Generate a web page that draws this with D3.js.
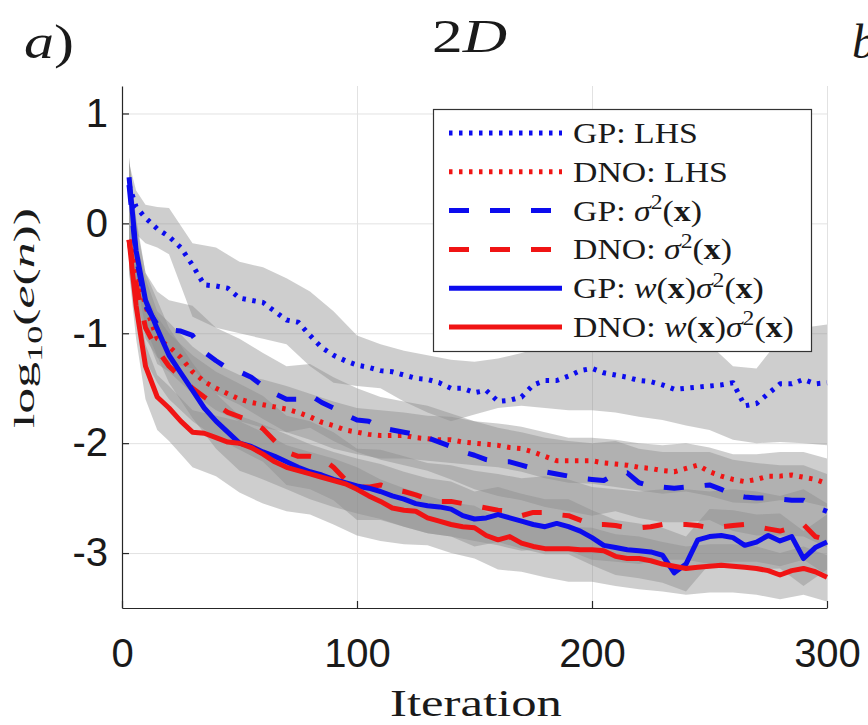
<!DOCTYPE html>
<html>
<head>
<meta charset="utf-8">
<script src="https://cdn.jsdelivr.net/npm/d3@7"></script>
<style>
body { margin: 0; background: #fff; }
text { white-space: pre; }
</style>
</head>
<body>
<div id="chart"></div>
<script>
var W = 868;
var H = 725;

var iterations = [3, 6, 10, 15, 20, 25, 30, 35, 40, 45, 50, 55, 60, 65, 70, 75, 80, 85, 90, 95,
    100, 105, 110, 115, 120, 125, 130, 135, 140, 145, 150, 155, 160, 165, 170, 175, 180, 185, 190, 195,
    200, 205, 210, 215, 220, 225, 230, 235, 240, 245, 250, 255, 260, 265, 270, 275, 280, 285, 290, 295, 300];

var gpLhs = [0.35, 0.15, 0.05, -0.05, -0.12, -0.22, -0.38, -0.56, -0.57, -0.59,
    -0.68, -0.70, -0.72, -0.80, -0.88, -0.90, -1.02, -1.13, -1.20, -1.25,
    -1.29, -1.31, -1.34, -1.35, -1.38, -1.41, -1.42, -1.45, -1.50, -1.50,
    -1.54, -1.52, -1.62, -1.61, -1.58, -1.47, -1.43, -1.43, -1.39, -1.34,
    -1.32, -1.36, -1.38, -1.40, -1.43, -1.44, -1.47, -1.51, -1.50, -1.49,
    -1.48, -1.47, -1.45, -1.66, -1.64, -1.55, -1.46, -1.46, -1.42, -1.46, -1.45];

var dnoLhs = [-0.15, -0.40, -0.75, -1.05, -1.12, -1.22, -1.35, -1.44, -1.50, -1.55,
    -1.60, -1.63, -1.65, -1.67, -1.69, -1.72, -1.76, -1.81, -1.84, -1.88,
    -1.90, -1.92, -1.93, -1.93, -1.93, -1.95, -1.96, -1.97, -1.97, -1.99,
    -2.00, -2.01, -2.02, -2.04, -2.05, -2.08, -2.12, -2.16, -2.16, -2.16,
    -2.16, -2.18, -2.19, -2.20, -2.22, -2.23, -2.25, -2.26, -2.23, -2.20,
    -2.26, -2.30, -2.33, -2.35, -2.33, -2.30, -2.30, -2.29, -2.31, -2.33, -2.37];

var gpVar = [0.35, -0.30, -0.75, -0.92, -0.97, -0.98, -1.02, -1.17, -1.25, -1.32,
    -1.35, -1.40, -1.48, -1.55, -1.60, -1.60, -1.56, -1.63, -1.68, -1.74,
    -1.79, -1.80, -1.86, -1.88, -1.90, -1.92, -1.95, -1.99, -2.03, -2.08,
    -2.11, -2.15, -2.17, -2.17, -2.20, -2.23, -2.26, -2.28, -2.30, -2.32,
    -2.33, -2.34, -2.28, -2.27, -2.36, -2.39, -2.40, -2.41, -2.40, -2.39,
    -2.38, -2.42, -2.47, -2.49, -2.50, -2.50, -2.51, -2.52, -2.52, -2.58, -2.62];

var dnoVar = [-0.15, -0.55, -0.95, -1.15, -1.30, -1.40, -1.50, -1.58, -1.65, -1.72,
    -1.76, -1.80, -1.87, -1.98, -2.08, -2.12, -2.12, -2.14, -2.22, -2.33,
    -2.40, -2.40, -2.38, -2.42, -2.44, -2.47, -2.51, -2.53, -2.53, -2.55,
    -2.57, -2.59, -2.61, -2.62, -2.66, -2.63, -2.63, -2.65, -2.66, -2.70,
    -2.74, -2.74, -2.75, -2.77, -2.77, -2.76, -2.74, -2.74, -2.74, -2.75,
    -2.77, -2.76, -2.75, -2.74, -2.76, -2.78, -2.80, -2.77, -2.74, -2.85, -2.88];

var gpWVar = [0.42, -0.25, -0.70, -0.96, -1.20, -1.36, -1.52, -1.68, -1.80, -1.90,
    -2.00, -2.03, -2.08, -2.12, -2.17, -2.22, -2.26, -2.29, -2.33, -2.36,
    -2.39, -2.41, -2.44, -2.48, -2.51, -2.55, -2.57, -2.58, -2.60, -2.66,
    -2.69, -2.68, -2.65, -2.68, -2.71, -2.74, -2.76, -2.73, -2.76, -2.80,
    -2.86, -2.93, -2.95, -2.97, -2.98, -2.99, -3.02, -3.18, -3.10, -2.88,
    -2.85, -2.84, -2.86, -2.93, -2.90, -2.84, -2.89, -2.85, -3.05, -2.95, -2.90];

var dnoWVar = [-0.15, -0.75, -1.30, -1.58, -1.68, -1.80, -1.90, -1.91, -1.95, -1.99,
    -2.00, -2.04, -2.10, -2.17, -2.22, -2.25, -2.28, -2.31, -2.34, -2.37,
    -2.42, -2.48, -2.53, -2.59, -2.61, -2.62, -2.68, -2.71, -2.74, -2.76,
    -2.77, -2.84, -2.88, -2.85, -2.91, -2.94, -2.96, -2.96, -2.96, -2.97,
    -2.97, -2.98, -3.03, -3.05, -3.05, -3.07, -3.10, -3.12, -3.14, -3.13,
    -3.12, -3.11, -3.12, -3.13, -3.14, -3.16, -3.20, -3.16, -3.14, -3.17, -3.22];

// spread bands (grey), read at coarser steps
var bandIterations = [3, 6, 10, 15, 20, 30, 40, 50, 60, 70, 80, 90, 100, 110, 120, 130, 140,
    150, 160, 170, 180, 190, 200, 210, 220, 230, 240, 250, 260, 270, 280, 290, 300];

var gpLhsHigh = [0.55, 0.30, 0.17, 0.15, 0.14, -0.18, -0.22, -0.35, -0.40, -0.50, -0.62, -0.80, -1.02,
    -1.10, -1.16, -1.20, -1.24, -1.26, -1.23, -1.18, -1.12, -1.08, -1.05, -1.05, -1.08, -1.10, -1.05,
    -1.10, -1.30, -1.32, -1.05, -0.95, -0.92];
var gpLhsLow = [0.10, -0.10, -0.18, -0.22, -0.28, -0.85, -0.95, -1.00, -1.05, -1.10, -1.30, -1.45, -1.48,
    -1.50, -1.62, -1.72, -1.80, -1.74, -1.68, -1.66, -1.68, -1.70, -1.70, -1.72, -1.76, -1.79, -1.84,
    -1.88, -1.97, -2.00, -1.99, -2.00, -2.02];

var dnoLhsHigh = [0.10, -0.15, -0.50, -0.80, -0.90, -1.12, -1.28, -1.38, -1.42, -1.48, -1.55, -1.62, -1.68,
    -1.70, -1.72, -1.75, -1.76, -1.80, -1.82, -1.85, -1.90, -1.95, -1.95, -1.97, -2.00, -2.02, -2.00,
    -2.04, -2.10, -2.10, -2.08, -2.08, -2.14];
var dnoLhsLow = [-0.40, -0.70, -1.00, -1.28, -1.35, -1.55, -1.70, -1.80, -1.86, -1.90, -1.97, -2.05, -2.10,
    -2.14, -2.14, -2.16, -2.18, -2.20, -2.22, -2.26, -2.32, -2.36, -2.37, -2.40, -2.43, -2.46, -2.44,
    -2.48, -2.54, -2.55, -2.52, -2.53, -2.58];

var gpVarHigh = [0.60, 0.05, -0.45, -0.62, -0.70, -0.75, -0.95, -1.05, -1.18, -1.30, -1.28, -1.40, -1.50,
    -1.58, -1.62, -1.66, -1.73, -1.80, -1.86, -1.90, -1.95, -1.98, -2.00, -1.98, -2.05, -2.08, -2.08,
    -2.08, -2.15, -2.18, -2.20, -2.20, -2.28];
var gpVarLow = [0.05, -0.60, -1.05, -1.22, -1.27, -1.32, -1.55, -1.65, -1.78, -1.90, -1.86, -1.98, -2.08,
    -2.15, -2.20, -2.25, -2.33, -2.42, -2.48, -2.52, -2.58, -2.62, -2.66, -2.62, -2.68, -2.72, -2.72,
    -2.70, -2.80, -2.84, -2.84, -2.85, -2.95];

var dnoVarHigh = [0.15, -0.25, -0.65, -0.85, -1.00, -1.20, -1.35, -1.46, -1.57, -1.75, -1.80, -1.90, -2.05,
    -2.06, -2.12, -2.18, -2.20, -2.25, -2.28, -2.32, -2.30, -2.33, -2.40, -2.42, -2.44, -2.42, -2.42,
    -2.44, -2.42, -2.44, -2.48, -2.42, -2.55];
var dnoVarLow = [-0.45, -0.85, -1.25, -1.45, -1.60, -1.80, -1.95, -2.06, -2.17, -2.38, -2.42, -2.52, -2.70,
    -2.70, -2.76, -2.82, -2.85, -2.89, -2.93, -2.98, -2.96, -2.98, -3.06, -3.08, -3.10, -3.06, -3.06,
    -3.10, -3.08, -3.08, -3.12, -3.06, -3.20];

var gpWVarHigh = [0.60, 0.00, -0.45, -0.70, -0.95, -1.27, -1.55, -1.75, -1.83, -1.92, -2.01, -2.08, -2.14,
    -2.19, -2.26, -2.32, -2.35, -2.44, -2.40, -2.46, -2.51, -2.51, -2.61, -2.70, -2.73, -2.77, -2.85,
    -2.60, -2.61, -2.65, -2.64, -2.80, -2.65];
var gpWVarLow = [0.15, -0.50, -0.95, -1.21, -1.45, -1.77, -2.05, -2.25, -2.33, -2.42, -2.51, -2.58, -2.64,
    -2.69, -2.76, -2.82, -2.85, -2.94, -2.90, -2.96, -3.01, -3.01, -3.11, -3.20, -3.23, -3.27, -3.35,
    -3.10, -3.11, -3.15, -3.14, -3.30, -3.15];

var dnoWVarHigh = [0.05, -0.55, -1.10, -1.38, -1.48, -1.70, -1.75, -1.80, -1.90, -2.02, -2.08, -2.14, -2.22,
    -2.33, -2.41, -2.48, -2.54, -2.57, -2.68, -2.71, -2.76, -2.76, -2.77, -2.83, -2.85, -2.90, -2.94,
    -2.92, -2.92, -2.94, -3.00, -2.94, -3.02];
var dnoWVarLow = [-0.45, -1.05, -1.60, -1.88, -1.98, -2.22, -2.30, -2.45, -2.55, -2.62, -2.65, -2.74, -2.84,
    -2.89, -2.92, -2.93, -3.00, -3.05, -3.15, -3.17, -3.22, -3.26, -3.26, -3.30, -3.33, -3.35, -3.38,
    -3.36, -3.36, -3.38, -3.42, -3.38, -3.44];

var seriesNames = ["GP: LHS", "DNO: LHS", "GP: σ²(x)", "DNO: σ²(x)", "GP: w(x)σ²(x)", "DNO: w(x)σ²(x)"];
var xTicks = [0, 100, 200, 300];
var yTicks = [1, 0, -1, -2, -3];

var blue = "#0c0cee";
var red = "#f01414";
var dotted = "3.5,6.5";
var dashed = "20,21";

var series = [
    {name: seriesNames[0], values: gpLhs, low: gpLhsLow, high: gpLhsHigh, color: blue, dash: dotted},
    {name: seriesNames[1], values: dnoLhs, low: dnoLhsLow, high: dnoLhsHigh, color: red, dash: dotted},
    {name: seriesNames[2], values: gpVar, low: gpVarLow, high: gpVarHigh, color: blue, dash: dashed},
    {name: seriesNames[3], values: dnoVar, low: dnoVarLow, high: dnoVarHigh, color: red, dash: dashed},
    {name: seriesNames[4], values: gpWVar, low: gpWVarLow, high: gpWVarHigh, color: blue, dash: null},
    {name: seriesNames[5], values: dnoWVar, low: dnoWVarLow, high: dnoWVarHigh, color: red, dash: null}
];

var serif = "'Liberation Serif', 'Times New Roman', serif";
var sans = "'Liberation Sans', Arial, Helvetica, sans-serif";

var svg = d3.select("#chart")
    .append("svg")
    .attr("width", W)
    .attr("height", H);

var x = d3.scaleLinear().domain([0, 300]).range([122, 827]);
var y = d3.scaleLinear().domain([-3.5, 1.25]).range([608, 86]);

svg.append("clipPath")
    .attr("id", "plotClip")
    .append("rect")
    .attr("x", 122).attr("y", 86)
    .attr("width", 706).attr("height", 522);

// grid
svg.append("g")
    .selectAll("line")
    .data(yTicks)
    .enter()
    .append("line")
    .attr("x1", x(0)).attr("x2", x(300))
    .attr("y1", function (d) { return y(d) + 0.5; })
    .attr("y2", function (d) { return y(d) + 0.5; })
    .attr("stroke", "#e2e2e2");

svg.append("g")
    .selectAll("line")
    .data(xTicks.slice(1))
    .enter()
    .append("line")
    .attr("x1", function (d) { return x(d) + 0.5; })
    .attr("x2", function (d) { return x(d) + 0.5; })
    .attr("y1", y(1.25)).attr("y2", y(-3.5))
    .attr("stroke", "#e2e2e2");

var plot = svg.append("g").attr("clip-path", "url(#plotClip)");

// grey spread bands
var band = d3.area()
    .x(function (d) { return x(d.it); })
    .y0(function (d) { return y(d.lo); })
    .y1(function (d) { return y(d.hi); });

plot.selectAll("path.band")
    .data(series)
    .enter()
    .append("path")
    .attr("class", "band")
    .attr("d", function (s) {
        return band(bandIterations.map(function (it, i) {
            return {it: it, lo: s.low[i], hi: s.high[i]};
        }));
    })
    .attr("fill", "#8a8a8a")
    .attr("fill-opacity", 0.42);

// mean curves
var line = d3.line()
    .x(function (d) { return x(d[0]); })
    .y(function (d) { return y(d[1]); });

plot.selectAll("path.mean")
    .data(series)
    .enter()
    .append("path")
    .attr("class", "mean")
    .attr("d", function (s) {
        return line(iterations.map(function (it, i) { return [it, s.values[i]]; }));
    })
    .attr("fill", "none")
    .attr("stroke", function (s) { return s.color; })
    .attr("stroke-width", 5)
    .attr("stroke-linejoin", "round")
    .attr("stroke-dasharray", function (s) { return s.dash; });

// axes
var yAxis = d3.axisLeft(y)
    .tickValues(yTicks)
    .tickFormat(function (d) { return String(d); })
    .tickSize(-7)
    .tickSizeOuter(0)
    .tickPadding(14);

var xAxis = d3.axisBottom(x)
    .tickValues(xTicks)
    .tickFormat(function (d) { return String(d); })
    .tickSize(-7)
    .tickSizeOuter(0)
    .tickPadding(31);

var gy = svg.append("g")
    .attr("transform", "translate(" + x(0) + ",0)")
    .call(yAxis);

var gx = svg.append("g")
    .attr("transform", "translate(0," + y(-3.5) + ")")
    .call(xAxis);

[gx, gy].forEach(function (g) {
    g.select(".domain").attr("stroke", "#262626").attr("stroke-width", 1.2);
    g.selectAll(".tick line").attr("stroke", "#262626").attr("stroke-width", 1.2);
    g.selectAll(".tick text")
        .attr("fill", "#1a1a1a")
        .attr("font-family", sans)
        .attr("font-size", 40);
});

// rich text: parts are [text, style]
function addParts(text, parts, size) {
    var shift = 0;
    parts.forEach(function (p) {
        var t = text.append("tspan").text(p[0]);
        var target = 0;
        if (p[1] === "sup") {
            t.attr("font-size", size * 0.7);
            target = -0.4 * size;
        } else if (p[1] === "sub") {
            t.attr("font-size", size * 0.7);
            target = 0.28 * size;
        } else if (p[1] === "i") {
            t.attr("font-style", "italic");
        } else if (p[1] === "b") {
            t.attr("font-weight", "bold");
        }
        if (target !== shift) {
            t.attr("dy", target - shift);
            shift = target;
        }
    });
}

function legendParts(label) {
    return label.split("").map(function (ch) {
        if (ch === "²") return ["2", "sup"];
        if (ch === "σ" || ch === "w") return [ch, "i"];
        if (ch === "x") return [ch, "b"];
        return [ch, ""];
    });
}

// place text so that its width becomes targetW, starting at left
function fitText(base, parts, size, left, targetW) {
    var g = svg.append("g").attr("transform", base);
    var t = g.append("text")
        .attr("font-family", serif)
        .attr("font-size", size)
        .attr("fill", "#1a1a1a");
    addParts(t, parts, size);
    var bw = t.node().getBBox().width;
    t.attr("transform", "translate(" + left + ",0) scale(" + (targetW / bw) + ",1)");
    return t;
}

// axis labels and titles
fitText("translate(0,716)", [["Iteration", ""]], 38, 390, 172);
fitText("translate(34,318) rotate(-90)",
    [["log", ""], ["10", "sub"], ["(", ""], ["e", "i"], ["(", ""], ["n", "i"], ["))", ""]],
    30, -110, 220);
fitText("translate(0,52)", [["2", ""], ["D", "i"]], 46, 432, 75);
fitText("translate(0,58)", [["a", "i"], [")", ""]], 48, 24, 50);
// left edge of the neighbouring panel's label, cut by the frame as in the source
fitText("translate(0,58)", [["b", "i"]], 48, 852, 24);

// legend
var legendBox = {x: 433, y: 109, w: 378, h: 242};
svg.append("rect")
    .attr("x", legendBox.x + 0.5).attr("y", legendBox.y + 0.5)
    .attr("width", legendBox.w).attr("height", legendBox.h)
    .attr("fill", "#fff")
    .attr("stroke", "#333")
    .attr("stroke-width", 1.2);

var rowY = d3.scaleLinear().domain([0, 5]).range([133, 327]);

var legendTexts = series.map(function (s, i) {
    var cy = rowY(i);
    svg.append("line")
        .attr("x1", 449).attr("x2", 562)
        .attr("y1", cy).attr("y2", cy)
        .attr("stroke", s.color)
        .attr("stroke-width", 5)
        .attr("stroke-dasharray", s.dash);
    var t = svg.append("text")
        .attr("x", 573).attr("y", cy + 10)
        .attr("font-family", serif)
        .attr("font-size", 29)
        .attr("fill", "#1a1a1a");
    addParts(t, legendParts(s.name), 29);
    return t;
});

// one common horizontal stretch so the longest label spans ~221px
var longest = d3.max(legendTexts, function (t) { return t.node().getBBox().width; });
var k = 221 / longest;
legendTexts.forEach(function (t, i) {
    var cy = rowY(i) + 10;
    t.attr("transform", "translate(573," + cy + ") scale(" + k + ",1) translate(-573," + (-cy) + ")");
});
</script>
</body>
</html>
